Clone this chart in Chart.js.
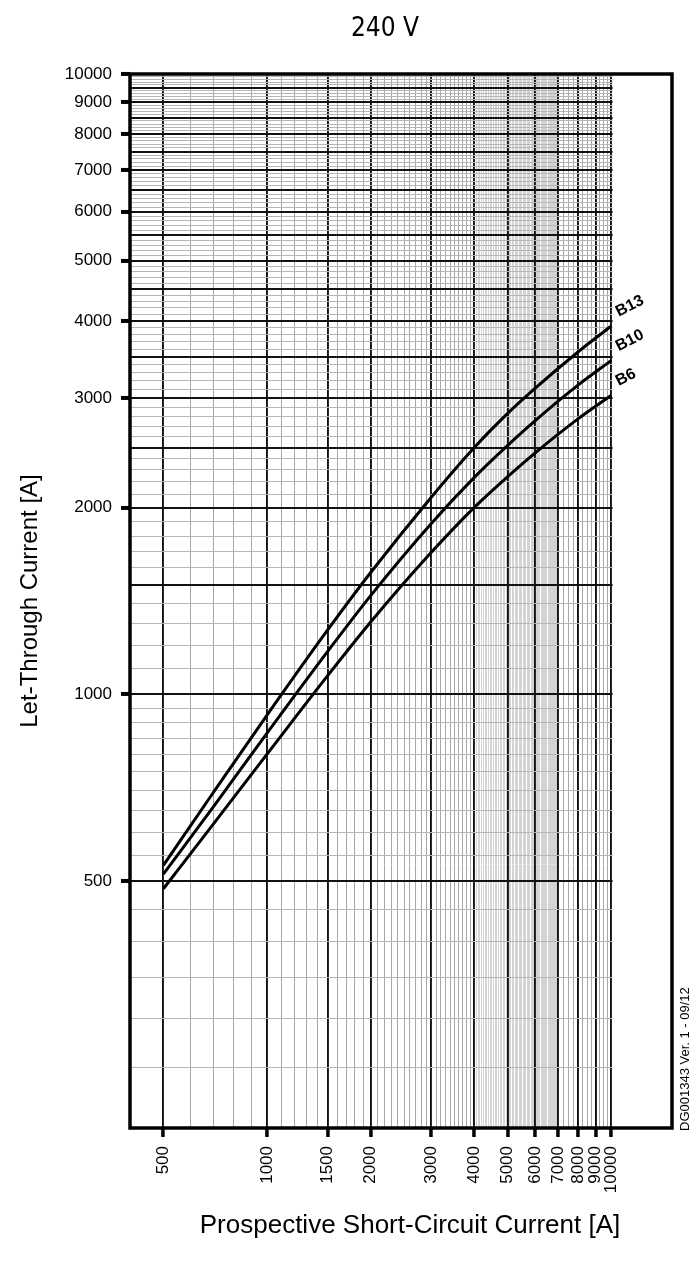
<!DOCTYPE html>
<html><head><meta charset="utf-8">
<script src="https://cdn.jsdelivr.net/npm/chart.js@4.4.0/dist/chart.umd.min.js"></script>
<style>html,body{margin:0;padding:0;background:#fff}#wrap{width:699px;height:1280px;position:relative}</style>
</head><body><div id="wrap"><canvas id="c"></canvas></div>
<script>
// ---- data ----
const prospectiveCurrent = [500, 700, 1000, 1500, 2000, 3000, 4000, 5000, 6000, 8000, 10000];
const letThroughB13 = [530, 696, 926, 1270, 1572, 2079, 2500, 2837, 3113, 3564, 3925];
const letThroughB10 = [513, 660, 866, 1173, 1443, 1886, 2238, 2520, 2760, 3151, 3455];
const letThroughB6  = [486, 619, 801, 1072, 1308, 1694, 2002, 2244, 2449, 2780, 3035];
const seriesNames = ['B13', 'B10', 'B6'];
const chartTitle = '240 V';
const xAxisTitle = 'Prospective Short-Circuit Current [A]';
const yAxisTitle = 'Let-Through Current [A]';
const docRef = 'DG001343 Ver. 1 - 09/12';
const xTickLabels = [500, 1000, 1500, 2000, 3000, 4000, 5000, 6000, 7000, 8000, 9000, 10000];
const yTickLabels = [500, 1000, 2000, 3000, 4000, 5000, 6000, 7000, 8000, 9000, 10000];
const xMajorLines = [500, 1000, 1500, 2000, 3000, 4000, 5000, 6000, 7000, 8000, 9000, 10000];
const yMajorLines = [500, 1000, 1500, 2000, 2500, 3000, 3500, 4000, 4500, 5000, 5500, 6000, 6500, 7000, 7500, 8000, 8500, 9000, 9500, 10000];
const xMinorRanges = [[500, 4000, 100], [4000, 7000, 50], [7000, 10000, 250]];
const yMinorRanges = [[200, 1000, 50], [1000, 10000, 100]];
const xLimits = [400, 15000];
const yLimits = [200, 10000];

function gridValues(ranges, majors) {
  const set = new Set(majors);
  ranges.forEach(([a, b, s]) => { for (let v = a; v <= b; v += s) set.add(v); });
  return Array.from(set).sort((p, q) => p - q);
}
const xGrid = gridValues(xMinorRanges, xMajorLines);
const yGrid = gridValues(yMinorRanges, yMajorLines);

const FONT = '"Liberation Sans", Arial, sans-serif';

const decor = {
  id: 'decor',
  beforeDatasetsDraw(chart) {
    const {ctx, chartArea: a, scales: {x}} = chart;
    const xr = x.getPixelForValue(10000);
    ctx.save();
    ctx.fillStyle = '#fff';
    ctx.fillRect(xr + 1.2, a.top, a.right - xr - 1.2, a.bottom - a.top);
    ctx.strokeStyle = '#000';
    ctx.lineWidth = 3.5;
    ctx.strokeRect(a.left, a.top, a.right - a.left, a.bottom - a.top);
    ctx.restore();
  },
  afterDatasetsDraw(chart) {
    const {ctx} = chart;
    ctx.save();
    ctx.fillStyle = '#000';
    chart.data.datasets.forEach((ds, i) => {
      const meta = chart.getDatasetMeta(i);
      const last = meta.data[meta.data.length - 1];
      ctx.save();
      ctx.translate(last.x + 9, last.y - 6);
      ctx.rotate(-27 * Math.PI / 180);
      ctx.font = 'bold 16px ' + FONT;
      ctx.textAlign = 'left';
      ctx.textBaseline = 'bottom';
      ctx.fillText(ds.label, 0, 0);
      ctx.restore();
    });
    ctx.font = '26px "Liberation Sans Narrow", "DejaVu Sans Condensed", sans-serif';
    ctx.textAlign = 'center';
    ctx.textBaseline = 'middle';
    ctx.fillText(chartTitle, 385, 29);
    ctx.font = '26px ' + FONT;
    ctx.fillText(xAxisTitle, 410, 1226);
    ctx.save();
    ctx.translate(685, 1131);
    ctx.rotate(-Math.PI / 2);
    ctx.font = '13px ' + FONT;
    ctx.textAlign = 'left';
    ctx.textBaseline = 'middle';
    ctx.fillText(docRef, 0, 0);
    ctx.restore();
    ctx.restore();
  }
};

const lineStyle = {borderColor: '#000', borderWidth: 3, pointRadius: 0, fill: false, cubicInterpolationMode: 'monotone'};
const toPts = arr => prospectiveCurrent.map((v, i) => ({x: v, y: arr[i]}));

new Chart(document.getElementById('c'), {
  type: 'line',
  data: {
    datasets: [
      Object.assign({label: seriesNames[0], data: toPts(letThroughB13)}, lineStyle),
      Object.assign({label: seriesNames[1], data: toPts(letThroughB10)}, lineStyle),
      Object.assign({label: seriesNames[2], data: toPts(letThroughB6)}, lineStyle)
    ]
  },
  options: {
    responsive: true,
    maintainAspectRatio: false,
    animation: false,
    layout: {padding: {top: 74, right: 27, left: 0, bottom: 0}},
    plugins: {legend: {display: false}, tooltip: {enabled: false}},
    scales: {
      x: {
        type: 'logarithmic',
        min: xLimits[0], max: xLimits[1],
        afterBuildTicks: s => { s.ticks = xGrid.map(v => ({value: v})); },
        afterFit: s => { s.height = 152; },
        border: {display: false},
        grid: {
          color: c => xMajorLines.includes(c.tick.value) ? '#111' : (c.tick.value > 4000 && c.tick.value < 7000 ? '#d4d4d4' : '#a8a8a8'),
          lineWidth: c => xMajorLines.includes(c.tick.value) ? 1.9 : 1,
          tickLength: 9,
          tickColor: c => xTickLabels.includes(c.tick.value) ? '#000' : 'rgba(0,0,0,0)',
          tickWidth: c => xTickLabels.includes(c.tick.value) ? 3.5 : 0
        },
        ticks: {
          autoSkip: false, minRotation: 90, maxRotation: 90, padding: 9,
          color: '#000', font: {family: FONT, size: 17},
          callback: v => xTickLabels.includes(v) ? String(v) : ''
        },
        title: {display: false, text: xAxisTitle}
      },
      y: {
        type: 'logarithmic',
        min: yLimits[0], max: yLimits[1],
        afterBuildTicks: s => { s.ticks = yGrid.map(v => ({value: v})); },
        afterFit: s => { s.width = 130; },
        border: {display: false},
        grid: {
          color: c => yMajorLines.includes(c.tick.value) ? '#111' : '#b6b6b6',
          lineWidth: c => yMajorLines.includes(c.tick.value) ? 1.9 : 1,
          tickLength: 9,
          tickColor: c => yTickLabels.includes(c.tick.value) ? '#000' : 'rgba(0,0,0,0)',
          tickWidth: c => yTickLabels.includes(c.tick.value) ? 4 : 0
        },
        ticks: {
          autoSkip: false, padding: 9,
          color: '#000', font: {family: FONT, size: 17},
          callback: v => yTickLabels.includes(v) ? String(v) : ''
        },
        title: {display: true, text: yAxisTitle, color: '#000', font: {family: FONT, size: 24}, padding: {top: 16}}
      }
    }
  },
  plugins: [decor]
});
</script>
</body></html>
